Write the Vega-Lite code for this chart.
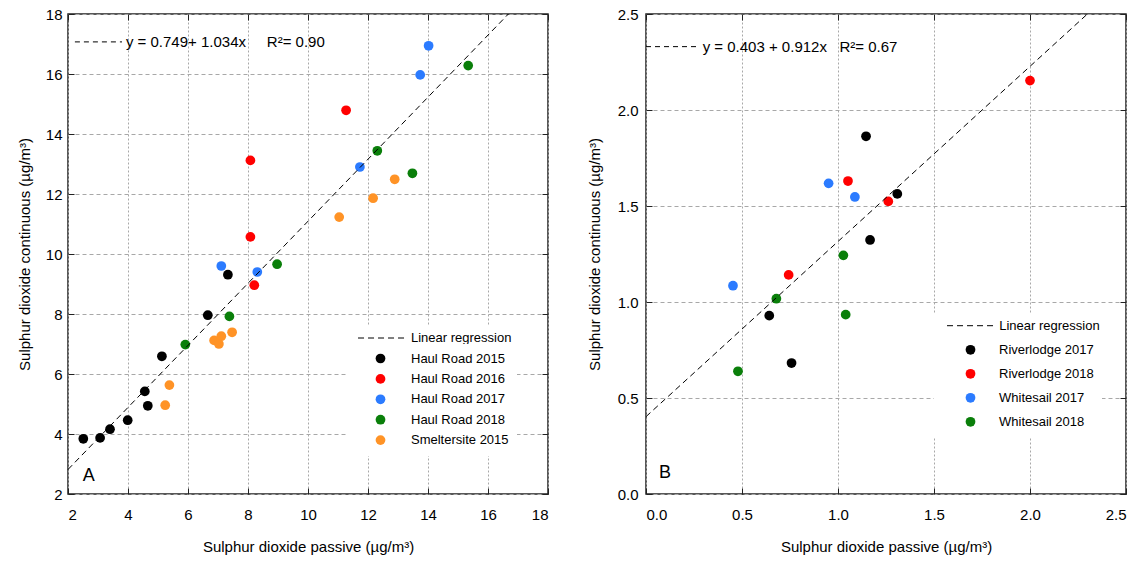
{
  "$schema": "https://vega.github.io/schema/vega-lite/v6.json",
  "padding": {"left": 16, "top": 6, "right": 5, "bottom": 5},
  "spacing": 36,
  "config": {
    "font": "Liberation Sans",
    "view": {"stroke": "#222", "strokeWidth": 1.5},
    "axis": {
      "labelFontSize": 15, "titleFontSize": 15, "titleFontWeight": "normal",
      "labelColor": "#000", "titleColor": "#000", "domain": false,
      "tickColor": "#222", "tickSize": -6, "tickWidth": 1,
      "gridColor": "#a8a8a8", "gridWidth": 1
    },
    "axisX": {"gridDash": [2, 2]},
    "axisY": {"gridDash": [4, 3]},
    "legend": {"labelFontSize": 13, "labelColor": "#000", "fillColor": "white"}
  },
  "datasets": {
    "left": [
      {"series": "Haul Road 2015", "passive": 7.33, "continuous": 9.31},
      {"series": "Haul Road 2015", "passive": 6.66, "continuous": 7.96},
      {"series": "Haul Road 2015", "passive": 5.13, "continuous": 6.59},
      {"series": "Haul Road 2015", "passive": 4.56, "continuous": 5.42},
      {"series": "Haul Road 2015", "passive": 4.66, "continuous": 4.94},
      {"series": "Haul Road 2015", "passive": 3.99, "continuous": 4.46},
      {"series": "Haul Road 2015", "passive": 3.40, "continuous": 4.16},
      {"series": "Haul Road 2015", "passive": 3.07, "continuous": 3.87},
      {"series": "Haul Road 2015", "passive": 2.51, "continuous": 3.84},
      {"series": "Haul Road 2016", "passive": 8.08, "continuous": 13.12},
      {"series": "Haul Road 2016", "passive": 8.08, "continuous": 10.57},
      {"series": "Haul Road 2016", "passive": 11.27, "continuous": 14.79},
      {"series": "Haul Road 2016", "passive": 8.21, "continuous": 8.96},
      {"series": "Haul Road 2017", "passive": 14.02, "continuous": 16.94},
      {"series": "Haul Road 2017", "passive": 13.74, "continuous": 15.97},
      {"series": "Haul Road 2017", "passive": 11.73, "continuous": 12.90},
      {"series": "Haul Road 2017", "passive": 7.11, "continuous": 9.60},
      {"series": "Haul Road 2017", "passive": 8.31, "continuous": 9.40},
      {"series": "Haul Road 2018", "passive": 15.34, "continuous": 16.28},
      {"series": "Haul Road 2018", "passive": 12.31, "continuous": 13.44},
      {"series": "Haul Road 2018", "passive": 13.48, "continuous": 12.69},
      {"series": "Haul Road 2018", "passive": 8.97, "continuous": 9.66},
      {"series": "Haul Road 2018", "passive": 7.38, "continuous": 7.92},
      {"series": "Haul Road 2018", "passive": 5.91, "continuous": 6.98},
      {"series": "Smeltersite 2015", "passive": 12.89, "continuous": 12.49},
      {"series": "Smeltersite 2015", "passive": 12.17, "continuous": 11.86},
      {"series": "Smeltersite 2015", "passive": 11.04, "continuous": 11.23},
      {"series": "Smeltersite 2015", "passive": 7.47, "continuous": 7.39},
      {"series": "Smeltersite 2015", "passive": 6.87, "continuous": 7.12},
      {"series": "Smeltersite 2015", "passive": 7.11, "continuous": 7.26},
      {"series": "Smeltersite 2015", "passive": 7.03, "continuous": 7.00},
      {"series": "Smeltersite 2015", "passive": 5.38, "continuous": 5.63},
      {"series": "Smeltersite 2015", "passive": 5.24, "continuous": 4.96}
    ],
    "leftFit": [
      {"passive": 2, "continuous": 2.817},
      {"passive": 16.68, "continuous": 18}
    ],
    "right": [
      {"series": "Riverlodge 2017", "passive": 1.146, "continuous": 1.863},
      {"series": "Riverlodge 2017", "passive": 1.309, "continuous": 1.563},
      {"series": "Riverlodge 2017", "passive": 1.167, "continuous": 1.323},
      {"series": "Riverlodge 2017", "passive": 0.642, "continuous": 0.929},
      {"series": "Riverlodge 2017", "passive": 0.758, "continuous": 0.682},
      {"series": "Riverlodge 2018", "passive": 2.0, "continuous": 2.153},
      {"series": "Riverlodge 2018", "passive": 1.052, "continuous": 1.630},
      {"series": "Riverlodge 2018", "passive": 1.262, "continuous": 1.524},
      {"series": "Riverlodge 2018", "passive": 0.743, "continuous": 1.141},
      {"series": "Whitesail 2017", "passive": 0.951, "continuous": 1.618},
      {"series": "Whitesail 2017", "passive": 1.088, "continuous": 1.547},
      {"series": "Whitesail 2017", "passive": 0.453, "continuous": 1.085},
      {"series": "Whitesail 2018", "passive": 1.028, "continuous": 1.243},
      {"series": "Whitesail 2018", "passive": 0.679, "continuous": 1.017},
      {"series": "Whitesail 2018", "passive": 1.040, "continuous": 0.934},
      {"series": "Whitesail 2018", "passive": 0.479, "continuous": 0.639}
    ],
    "rightFit": [
      {"passive": 0, "continuous": 0.403},
      {"passive": 2.299, "continuous": 2.5}
    ]
  },
  "resolve": {
    "scale": {"color": "independent", "strokeDash": "independent"},
    "legend": {"color": "independent", "strokeDash": "independent"}
  },
  "hconcat": [
    {
      "width": 480,
      "height": 480,
      "resolve": {"axis": {"x": "independent", "y": "independent"}},
      "layer": [
        {
          "data": {"name": "left"},
          "mark": {"type": "circle", "size": 95, "opacity": 1},
          "encoding": {
            "x": {"field": "passive", "type": "quantitative",
              "scale": {"domain": [2, 18], "nice": false, "zero": false},
              "axis": {"values": [2, 4, 6, 8, 10, 12, 14, 16, 18], "format": "d", "title": "Sulphur dioxide passive (µg/m³)", "labelPadding": 19, "titlePadding": 17}},
            "y": {"field": "continuous", "type": "quantitative",
              "scale": {"domain": [2, 18], "nice": false, "zero": false},
              "axis": {"values": [2, 4, 6, 8, 10, 12, 14, 16, 18], "format": "d", "title": "Sulphur dioxide continuous (µg/m³)", "labelPadding": 12, "titlePadding": 13}},
            "color": {"field": "series", "type": "nominal",
              "scale": {"domain": ["Haul Road 2015", "Haul Road 2016", "Haul Road 2017", "Haul Road 2018", "Smeltersite 2015"],
                        "range": ["#000000", "#ff0000", "#2b7bff", "#0a7f0a", "#ff9326"]},
              "legend": {"title": null, "orient": "none", "legendX": 278, "legendY": 330,
                "padding": 8, "symbolSize": 95, "symbolStrokeWidth": 0, "zindex": 2,
                "symbolOffset": 20, "labelOffset": 24, "rowPadding": 6.4}}
          }
        },
        {
          "data": {"name": "leftFit"},
          "mark": {"type": "line", "color": "#000", "strokeWidth": 1},
          "encoding": {
            "x": {"field": "passive", "type": "quantitative",
              "axis": {"orient": "top", "values": [2, 4, 6, 8, 10, 12, 14, 16, 18], "labels": false, "grid": false, "title": null}},
            "y": {"field": "continuous", "type": "quantitative",
              "axis": {"orient": "right", "values": [2, 4, 6, 8, 10, 12, 14, 16, 18], "labels": false, "grid": false, "title": null}},
            "strokeDash": {"datum": "Linear regression", "type": "nominal",
              "scale": {"domain": ["Linear regression"], "range": [[6, 4]]},
              "legend": {"title": null, "orient": "none", "legendX": 278, "legendY": 311.5,
                "padding": 6, "symbolSize": 95, "symbolStrokeWidth": 1, "symbolStrokeColor": "#000",
                "symbolType": "M-4.9,0L4.9,0", "zindex": 1,
                "symbolOffset": 23.4, "labelOffset": 22.6}}
          }
        },
        {
          "data": {"values": [{"label": "y = 0.749+ 1.034x\u00a0\u00a0\u00a0\u00a0\u00a0R²= 0.90"}]},
          "layer": [
            {
              "mark": {"type": "rule", "color": "#000", "strokeWidth": 1, "strokeDash": [5, 4]},
              "encoding": {
                "x": {"datum": 2.23, "type": "quantitative", "axis": null},
                "x2": {"datum": 3.8},
                "y": {"datum": 17.07, "type": "quantitative", "axis": null}
              }
            },
            {
              "mark": {"type": "text", "align": "left", "baseline": "middle", "fontSize": 15, "color": "#000"},
              "encoding": {
                "x": {"datum": 3.93, "type": "quantitative", "axis": null},
                "y": {"datum": 17.07, "type": "quantitative", "axis": null},
                "text": {"field": "label"}
              }
            }
          ]
        },
        {
          "data": {"values": [{"label": "A"}]},
          "mark": {"type": "text", "align": "center", "baseline": "middle", "fontSize": 18, "color": "#000"},
          "encoding": {
            "x": {"datum": 2.69, "type": "quantitative", "axis": null},
            "y": {"datum": 2.61, "type": "quantitative", "axis": null},
            "text": {"field": "label"}
          }
        }
      ]
    },
    {
      "width": 480,
      "height": 480,
      "resolve": {"axis": {"x": "independent", "y": "independent"}},
      "layer": [
        {
          "data": {"name": "right"},
          "mark": {"type": "circle", "size": 95, "opacity": 1},
          "encoding": {
            "x": {"field": "passive", "type": "quantitative",
              "scale": {"domain": [0, 2.5], "nice": false, "zero": false},
              "axis": {"values": [0, 0.5, 1, 1.5, 2, 2.5], "format": ".1f", "title": "Sulphur dioxide passive (µg/m³)", "labelPadding": 19, "titlePadding": 17}},
            "y": {"field": "continuous", "type": "quantitative",
              "scale": {"domain": [0, 2.5], "nice": false, "zero": false},
              "axis": {"values": [0, 0.5, 1, 1.5, 2, 2.5], "format": ".1f", "title": "Sulphur dioxide continuous (µg/m³)", "labelPadding": 14, "titlePadding": 15}},
            "color": {"field": "series", "type": "nominal",
              "scale": {"domain": ["Riverlodge 2017", "Riverlodge 2018", "Whitesail 2017", "Whitesail 2018"],
                        "range": ["#000000", "#ff0000", "#2b7bff", "#0a7f0a"]},
              "legend": {"title": null, "orient": "none", "legendX": 288, "legendY": 321.3,
                "padding": 8, "symbolSize": 95, "symbolStrokeWidth": 0, "zindex": 2,
                "symbolOffset": 22, "labelOffset": 22, "rowPadding": 10}}
          }
        },
        {
          "data": {"name": "rightFit"},
          "mark": {"type": "line", "color": "#000", "strokeWidth": 1},
          "encoding": {
            "x": {"field": "passive", "type": "quantitative",
              "axis": {"orient": "top", "values": [0, 0.5, 1, 1.5, 2, 2.5], "labels": false, "grid": false, "title": null}},
            "y": {"field": "continuous", "type": "quantitative",
              "axis": {"orient": "right", "values": [0, 0.5, 1, 1.5, 2, 2.5], "labels": false, "grid": false, "title": null}},
            "strokeDash": {"datum": "Linear regression", "type": "nominal",
              "scale": {"domain": ["Linear regression"], "range": [[6, 4]]},
              "legend": {"title": null, "orient": "none", "legendX": 288, "legendY": 299.2,
                "padding": 6, "symbolSize": 95, "symbolStrokeWidth": 1, "symbolStrokeColor": "#000",
                "symbolType": "M-4.9,0L4.9,0", "zindex": 1,
                "symbolOffset": 24.4, "labelOffset": 21.8}}
          }
        },
        {
          "data": {"values": [{"label": "y = 0.403 + 0.912x\u00a0\u00a0\u00a0R²= 0.67"}]},
          "layer": [
            {
              "mark": {"type": "rule", "color": "#000", "strokeWidth": 1, "strokeDash": [5, 4]},
              "encoding": {
                "x": {"datum": 0.0, "type": "quantitative", "axis": null},
                "x2": {"datum": 0.28},
                "y": {"datum": 2.33, "type": "quantitative", "axis": null}
              }
            },
            {
              "mark": {"type": "text", "align": "left", "baseline": "middle", "fontSize": 15, "color": "#000"},
              "encoding": {
                "x": {"datum": 0.295, "type": "quantitative", "axis": null},
                "y": {"datum": 2.33, "type": "quantitative", "axis": null},
                "text": {"field": "label"}
              }
            }
          ]
        },
        {
          "data": {"values": [{"label": "B"}]},
          "mark": {"type": "text", "align": "center", "baseline": "middle", "fontSize": 18, "color": "#000"},
          "encoding": {
            "x": {"datum": 0.099, "type": "quantitative", "axis": null},
            "y": {"datum": 0.11, "type": "quantitative", "axis": null},
            "text": {"field": "label"}
          }
        }
      ]
    }
  ]
}
